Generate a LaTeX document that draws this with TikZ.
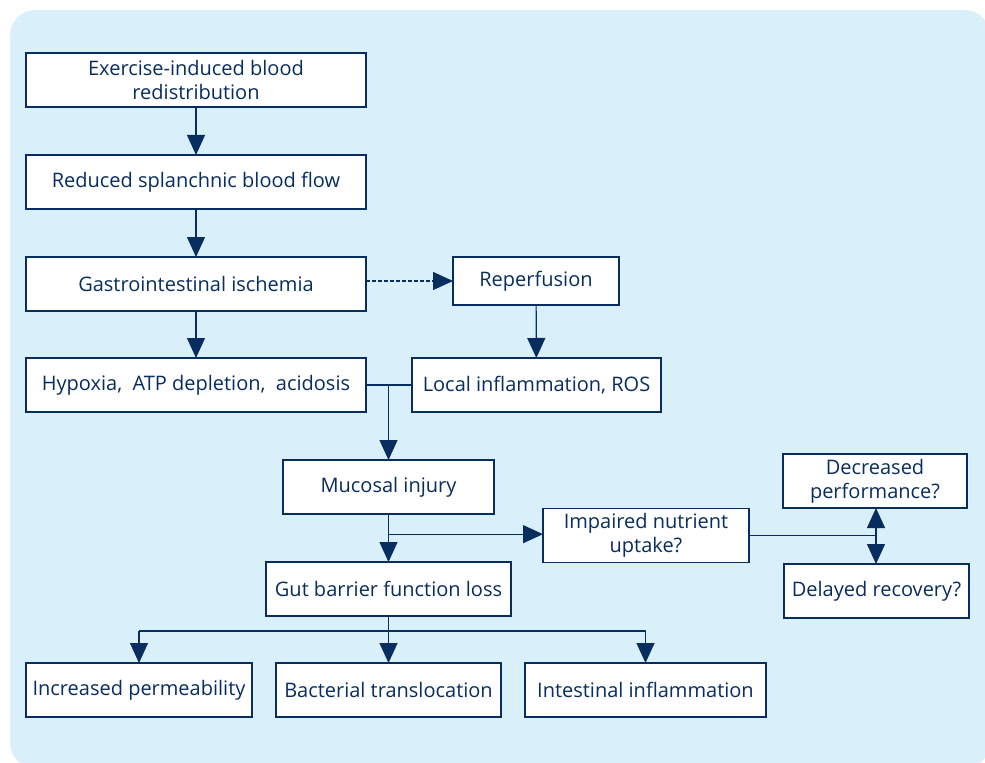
\documentclass[tikz,border=0pt]{standalone}
\usepackage{fontspec}
\setmainfont{Open Sans}
\usepackage{xcolor}
\definecolor{gutnavy}{RGB}{8,45,95}
\definecolor{gutpale}{RGB}{217,239,249}
\usetikzlibrary{arrows.meta,positioning,calc}

\begin{document}
\begin{tikzpicture}[
    x=0.75pt, y=-0.75pt,
    node distance=36pt,
    box/.style={rectangle, draw=gutnavy, fill=white, line width=0.9pt, outer sep=0pt, minimum height=40.5pt, inner sep=2pt, align=center, text=gutnavy, font=\fontsize{15}{18}\selectfont},
    arrow/.style={-{Triangle[width=13.5pt,length=15pt]}, line width=0.9pt, gutnavy},
    link/.style={line width=0.9pt, gutnavy}
]
\useasboundingbox (0,0) rectangle (985,763);
\fill[gutpale, rounded corners=19pt] (10,10) rectangle (990,768);

% Main column
\node[box, minimum width=255pt] (exer) at (196,80) {Exercise-induced blood\\redistribution};
\node[box, minimum width=255pt, below=of exer] (flow) {Reduced splanchnic blood flow};
\node[box, minimum width=255pt, below=of flow] (isch) {Gastrointestinal ischemia};
\node[box, minimum width=255pt, below=35.25pt of isch] (hypo) {Hypoxia,\ \ ATP depletion,\ \ acidosis};

% Reperfusion branch
\node[box, minimum width=124.5pt, minimum height=36pt] (repe) at (536,281) {Reperfusion};
\node[box, minimum width=186.75pt] (infl) at (hypo -| 536.5,0) {Local inflammation, ROS};

% Injury and consequences
\node[box, minimum width=158.25pt] (muco) at (388.5,487) {Mucosal injury};
\node[box, minimum width=183.75pt, below=36pt of muco] (gut) {Gut barrier function loss};
\node[box, minimum width=154.5pt] (nutr) at (646,535.5) {Impaired nutrient\\uptake?};
\node[box, minimum width=138pt] (perf) at (875,481) {Decreased\\performance?};
\node[box, minimum width=138.75pt] (reco) at (876.5,591) {Delayed recovery?};

% Bottom row
\node[box, minimum width=169.5pt] (perm) at (139,690) {Increased permeability};
\node[box, minimum width=168.75pt] (bact) at (388.5,690) {Bacterial translocation};
\node[box, minimum width=180.75pt] (intf) at (645.5,690) {Intestinal inflammation};

% Arrows
\draw[arrow] (exer) -- (flow);
\draw[arrow] (flow) -- (isch);
\draw[arrow] (isch) -- (hypo);
\draw[arrow, dashed, dash pattern=on 3pt off 1.5pt] (isch.east |- repe) -- (repe.west);
\draw[arrow] (repe) -- (infl);

\coordinate (meet) at (muco.north |- hypo.east);
\draw[link] (hypo.east) -- (infl.west);
\draw[arrow] (meet) -- (muco.north);

\draw[arrow] (muco) -- (gut);
\coordinate (split) at ($(muco.south)!0.42!(gut.north)$);
\draw[arrow] (split) -- (split -| nutr.west);
\coordinate (fork) at (876,535.5);
\draw[link] (nutr.east |- fork) -- (fork);
\draw[arrow] (fork) -- (fork |- perf.south);
\draw[arrow] (fork) -- (fork |- reco.north);

\coordinate (spread) at (388.5,631);
\draw[link] (gut.south) -- (spread);
\draw[link] (perm.north |- spread) -- (intf.north |- spread);
\draw[arrow] (perm.north |- spread) -- (perm.north);
\draw[arrow] (spread) -- (bact.north);
\draw[arrow] (intf.north |- spread) -- (intf.north);
\end{tikzpicture}
\end{document}
